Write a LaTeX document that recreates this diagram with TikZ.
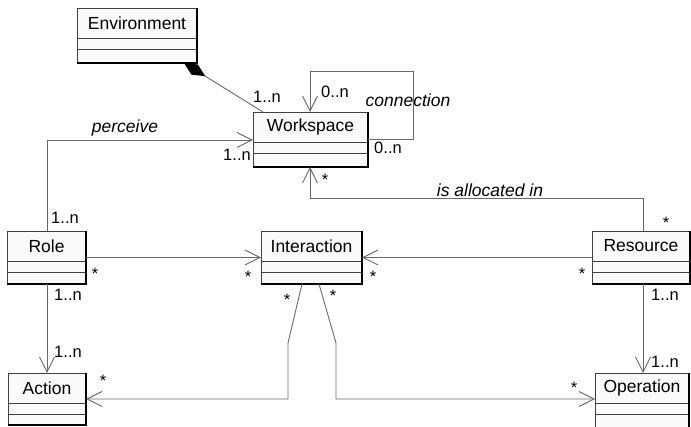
\documentclass[tikz,border=0pt]{standalone}
\usepackage{fontspec}
\setmainfont{Liberation Sans}
\usetikzlibrary{arrows.meta,calc}
\definecolor{linegray}{HTML}{6A6A6A}
\definecolor{boxfill}{HTML}{FAFAFA}
\definecolor{boxline}{HTML}{404040}
\tikzset{
  classbox/.style={draw=boxline, fill=boxfill, line width=0.8pt, anchor=north west, inner sep=0pt, outer sep=0pt},
  classname/.style={font=\fontsize{17.5}{17.5}\selectfont, inner sep=0pt},
  mult/.style={font=\fontsize{16.5}{16.5}\selectfont, inner sep=0pt},
  rolename/.style={font=\fontsize{17.5}{17.5}\selectfont\itshape, inner sep=0pt},
  divider/.style={draw=boxline, line width=0.8pt},
  shadowedge/.style={draw=black, line width=1.8pt},
  assoc/.style={draw=linegray, line width=0.9pt},
  nav/.style={assoc, -{Straight Barb[length=15pt,width=15pt,line width=0.9pt]}},
}
\newcommand{\umlclass}[6]{%
  \node[classbox, minimum width=#5pt, minimum height=#6pt] (#1) at (#3,#4) {};
  \draw[divider] ($(#1.north west)+(0,30)$) -- ($(#1.north east)+(0,30)$);
  \draw[divider] ($(#1.north west)+(0,41)$) -- ($(#1.north east)+(0,41)$);
  \draw[shadowedge] (#1.south west) -- (#1.south east) -- (#1.north east);
  \node[classname] (#1-t) at ($(#1.north)+(0,15)$) {#2};
}
\begin{document}
\begin{tikzpicture}[x=1pt,y=-1pt]
\path[use as bounding box] (0,0) rectangle (691,427);
\clip (0,0) rectangle (691,427);

% classes
\umlclass{env}{Environment}{77}{8}{120}{55}
\umlclass{ws}{Workspace}{253}{112}{115}{55}
\umlclass{role}{Role}{7}{231}{79}{53}
\umlclass{inter}{Interaction}{261}{231}{101}{53}
\umlclass{res}{Resource}{592}{231}{98}{53}
\umlclass{act}{Action}{8}{373}{78}{52}
\umlclass{op}{Operation}{595}{373}{94}{62}

% composition Environment - Workspace
\draw[assoc, {Diamond[length=25pt,width=12pt,color=black,fill=black]}-]
  ($(env.south east)+(-13,0)$) -- ($(ws.north west)+(10,0)$);

% self loop "connection"
\coordinate (lpA) at (413,139);
\coordinate (lpB) at (413,71);
\coordinate (lpC) at (310,71);
\draw[nav] ($(ws.north east)+(0,27)$) -- (lpA) -- (lpB) -- (lpC) -- (ws.north -| lpC);

% perceive
\coordinate (pc) at (47,140);
\draw[nav] (role.north -| pc) -- (pc) -- (ws.west |- pc);

% is allocated in
\coordinate (al) at (643,198);
\coordinate (al2) at (310,198);
\draw[nav] (res.north -| al) -- (al) -- (al2) -- (ws.south -| al2);

% Role - Interaction, Resource - Interaction
\draw[nav] (role.east) -- (inter.west);
\draw[nav] (res.west) -- (inter.east);

% Role - Action, Resource - Operation
\coordinate (ra) at (47,300);
\draw[nav] (role.south -| ra) -- (act.north -| ra);
\coordinate (ro) at (643,300);
\draw[nav] (res.south -| ro) -- (op.north -| ro);

% Interaction - Action
\coordinate (ia1) at (302,284);
\coordinate (ia2) at (288,343);
\coordinate (ia3) at (288,399);
\draw[nav] (inter.south -| ia1) -- (ia2) -- (ia3) -- (act.east |- ia3);

% Interaction - Operation
\coordinate (io1) at (319,284);
\coordinate (io2) at (336,343);
\coordinate (io3) at (336,399);
\draw[nav] (inter.south -| io1) -- (io2) -- (io3) -- (op.west |- io3);

% labels
\node[mult] (m1) at (267,97) {1..n};
\node[mult] (m2) at (335,92) {0..n};
\node[rolename] (r1) at (408,100) {connection};
\node[mult] (m3) at (388,148) {0..n};
\node[rolename] (r2) at (125,128) {perceive};
\node[mult] (m4) at (237,155) {1..n};
\node[mult] (m5) at (65,218) {1..n};
\node[mult] (s1) at (325,179.5) {*};
\node[rolename] (r3) at (490,190) {is allocated in};
\node[mult] (s2) at (666,222.5) {*};
\node[mult] (s3) at (95,273.5) {*};
\node[mult] (s4) at (248,276.5) {*};
\node[mult] (s5) at (373,276.5) {*};
\node[mult] (s6) at (582,273.5) {*};
\node[mult] (m6) at (68,295) {1..n};
\node[mult] (m7) at (68,352) {1..n};
\node[mult] (s7) at (287,299.5) {*};
\node[mult] (s8) at (333,295.5) {*};
\node[mult] (s9) at (103,380.5) {*};
\node[mult] (s10) at (574,387.5) {*};
\node[mult] (m8) at (665,295) {1..n};
\node[mult] (m9) at (665,362) {1..n};
\end{tikzpicture}
\end{document}
